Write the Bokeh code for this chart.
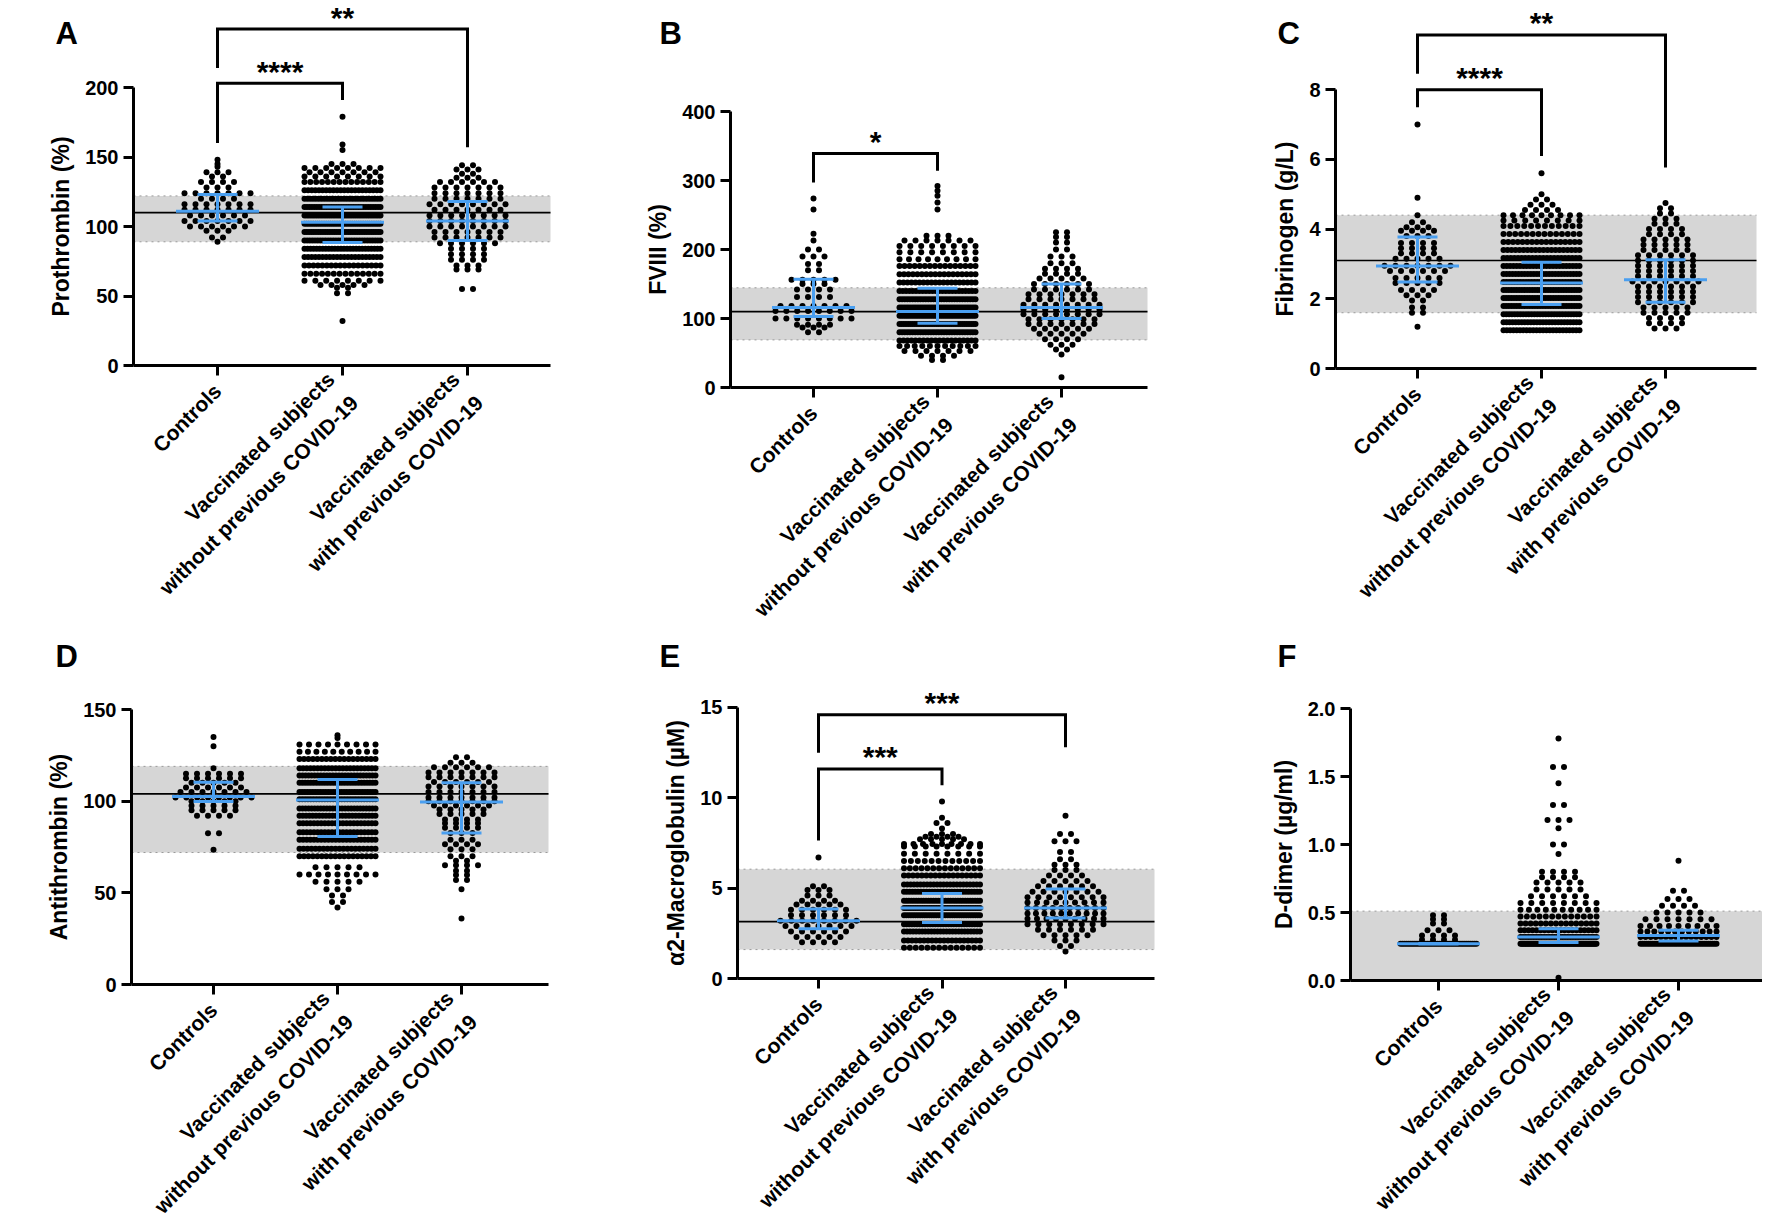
import math
from bokeh.plotting import figure
from bokeh.layouts import column, row
from bokeh.models import (Range1d, FixedTicker, BoxAnnotation, Label,
                          PrintfTickFormatter)
from bokeh.embed import file_html
from bokeh.resources import INLINE

FONT = "Liberation Sans"
BLUE = "#4a9ff0"
BAND = "#d6d6d6"

GROUP_LABELS = ["Controls",
                "Vaccinated subjects\nwithout previous COVID-19",
                "Vaccinated subjects\nwith previous COVID-19"]

# ---------------- A: Prothrombin (%) ----------------
A_ctrl_levels = [148, 145, 143, 139, 136, 132, 128, 124, 120, 116, 112, 108, 104, 100, 97, 92, 89]
A_ctrl_counts = [1, 1, 1, 3, 2, 4, 3, 7, 4, 7, 7, 6, 7, 6, 3, 2, 1]
A_novid_levels = [179, 159, 155, 145, 142, 139, 136, 132, 126, 120, 114, 108, 102, 96, 90, 84, 78, 72, 66, 61, 58, 56, 52, 32]
A_novid_counts = [1, 1, 1, 3, 8, 7, 8, 14, 22, 28, 32, 36, 36, 34, 30, 26, 22, 18, 14, 8, 5, 2, 2, 1]
A_covid_levels = [144, 141, 138, 135, 132, 128, 124, 120, 116, 112, 108, 104, 100, 96, 92, 88, 84, 80, 76, 72, 69, 55]
A_covid_counts = [2, 3, 2, 3, 6, 7, 7, 7, 8, 7, 8, 8, 8, 7, 7, 6, 4, 4, 4, 3, 3, 2]
A_median = [111, 103, 104]
A_q1 = [104, 88.5, 90]
A_q3 = [123, 114, 118]
A_band = [89, 122, 110]
A_ticks = [0, 50, 100, 150, 200]

# ---------------- B: FVIII (%) ----------------
B_ctrl_levels = [274, 258, 223, 213, 200, 190, 179, 170, 156, 150, 142, 131, 118, 111, 100, 91, 87, 80]
B_ctrl_counts = [1, 1, 1, 1, 2, 3, 2, 2, 5, 3, 4, 4, 7, 8, 8, 4, 3, 2]
B_novid_levels = [292, 285, 278, 268, 258, 220, 213, 205, 196, 186, 176, 164, 152, 140, 128, 116, 104, 92, 80, 68, 60, 53, 46, 40]
B_novid_counts = [1, 1, 1, 1, 1, 3, 7, 8, 8, 9, 16, 18, 20, 24, 30, 34, 38, 36, 30, 20, 11, 7, 4, 2]
B_covid_levels = [225, 218, 210, 200, 190, 180, 172, 165, 158, 150, 142, 135, 128, 120, 113, 106, 99, 92, 85, 78, 70, 62, 55, 48, 15]
B_covid_counts = [2, 2, 2, 2, 3, 3, 4, 4, 5, 6, 6, 7, 7, 8, 8, 8, 7, 7, 6, 5, 4, 3, 2, 1, 1]
B_median = [116, 110, 116]
B_q1 = [103, 93, 100]
B_q3 = [157, 144, 150]
B_band = [69, 144.5, 110]
B_ticks = [0, 100, 200, 300, 400]

# ---------------- C: Fibrinogen (g/L) ----------------
C_ctrl_levels = [7.0, 4.9, 4.4, 4.2, 4.05, 3.95, 3.8, 3.6, 3.45, 3.3, 3.15, 2.95, 2.8, 2.6, 2.45, 2.25, 2.1, 1.95, 1.75, 1.6, 1.2]
C_ctrl_counts = [1, 1, 1, 2, 3, 4, 3, 4, 4, 4, 5, 7, 6, 5, 5, 4, 3, 2, 2, 2, 1]
C_novid_levels = [5.6, 5.0, 4.85, 4.7, 4.55, 4.4, 4.25, 4.09, 3.86, 3.63, 3.40, 3.17, 2.94, 2.71, 2.48, 2.25, 2.02, 1.79, 1.56, 1.33, 1.10]
C_novid_counts = [1, 1, 2, 3, 4, 9, 8, 12, 14, 17, 20, 22, 24, 26, 28, 30, 30, 30, 28, 26, 24]
C_covid_levels = [4.75, 4.6, 4.45, 4.3, 4.15, 4.0, 3.85, 3.7, 3.55, 3.4, 3.25, 3.1, 2.95, 2.8, 2.65, 2.5, 2.35, 2.2, 2.05, 1.9, 1.75, 1.6, 1.45, 1.3, 1.15]
C_covid_counts = [1, 2, 2, 3, 3, 4, 4, 5, 5, 5, 6, 6, 6, 6, 6, 7, 6, 6, 6, 6, 5, 5, 4, 4, 3]
C_median = [2.94, 2.45, 2.55]
C_q1 = [2.48, 1.84, 1.9]
C_q3 = [3.77, 3.05, 3.12]
C_band = [1.6, 4.4, 3.1]
C_ticks = [0, 2, 4, 6, 8]

# ---------------- D: Antithrombin (%) ----------------
D_ctrl_levels = [135, 130, 118, 115, 112.5, 110, 107.5, 105, 102, 100, 97.5, 95, 92, 82.5, 73.5]
D_ctrl_counts = [1, 1, 1, 6, 6, 5, 6, 7, 8, 5, 5, 5, 4, 2, 1]
D_novid_levels = [136, 134.5, 131, 127, 123, 118, 114, 110, 105, 101, 96, 92, 88, 83, 79, 74, 70, 64, 60, 56, 52, 48.5, 45, 42]
D_novid_counts = [1, 1, 9, 10, 18, 22, 26, 28, 30, 28, 26, 24, 22, 22, 22, 20, 18, 5, 9, 5, 3, 2, 2, 1]
D_covid_levels = [124, 121, 118.5, 115.6, 113, 110.5, 108, 105, 102, 100, 97.7, 95.5, 93, 90, 88, 85.5, 82.7, 79, 76.5, 73.8, 70, 67.5, 65, 62, 59.8, 57, 52, 36]
D_covid_counts = [2, 3, 6, 7, 7, 6, 7, 7, 7, 7, 6, 5, 5, 4, 4, 4, 3, 3, 4, 3, 3, 2, 4, 2, 2, 2, 1, 1]
D_median = [102.6, 100.7, 99.5]
D_q1 = [99.8, 80.7, 82.7]
D_q3 = [110.4, 111.8, 110]
D_band = [72, 119, 104]
D_ticks = [0, 50, 100, 150]

# ---------------- E: alpha2-Macroglobulin (uM) ----------------
E_ctrl_levels = [6.7, 5.1, 4.9, 4.6, 4.3, 4.1, 3.8, 3.5, 3.2, 2.9, 2.6, 2.3, 2.0]
E_ctrl_counts = [1, 2, 3, 3, 4, 5, 6, 6, 8, 7, 6, 5, 4]
E_novid_levels = [9.8, 8.9, 8.6, 8.3, 8.0, 7.85, 7.7, 7.45, 7.3, 6.9, 6.5, 6.1, 5.7, 5.2, 4.8, 4.3, 3.9, 3.5, 3.0, 2.6, 2.1, 1.7]
E_novid_counts = [1, 1, 2, 1, 3, 4, 5, 9, 8, 8, 12, 14, 18, 24, 28, 32, 34, 34, 30, 26, 20, 14]
E_covid_levels = [9.0, 8.0, 7.6, 7.0, 6.6, 6.3, 6.0, 5.7, 5.4, 5.1, 4.8, 4.5, 4.2, 3.9, 3.6, 3.3, 3.0, 2.7, 2.4, 2.1, 1.8, 1.5]
E_covid_counts = [1, 2, 3, 2, 2, 3, 3, 4, 5, 6, 7, 8, 9, 10, 10, 9, 8, 6, 5, 3, 2, 1]
E_median = [3.2, 3.9, 3.9]
E_q1 = [2.75, 3.1, 3.35]
E_q3 = [3.85, 4.7, 4.95]
E_band = [1.6, 6.05, 3.15]
E_ticks = [0, 5, 10, 15]

# ---------------- F: D-dimer (ug/ml) ----------------
F_ctrl_levels = [0.48, 0.45, 0.42, 0.37, 0.33, 0.30, 0.27]
F_ctrl_counts = [2, 2, 2, 3, 4, 4, 40]
F_novid_levels = [1.78, 1.57, 1.45, 1.29, 1.18, 1.12, 1.00, 0.93, 0.80, 0.76, 0.72, 0.67, 0.62, 0.57, 0.52, 0.47, 0.42, 0.37, 0.32, 0.27, 0.02]
F_novid_counts = [1, 2, 1, 2, 3, 1, 2, 1, 4, 4, 5, 5, 6, 8, 10, 13, 16, 20, 30, 70, 1]
F_covid_levels = [0.88, 0.66, 0.60, 0.55, 0.50, 0.45, 0.40, 0.36, 0.32, 0.27]
F_covid_counts = [1, 2, 3, 4, 5, 7, 9, 12, 16, 40]
F_median = [0.27, 0.32, 0.33]
F_q1 = [0.27, 0.28, 0.29]
F_q3 = [0.27, 0.38, 0.37]
F_band = [0.0, 0.51, None]
F_ticks = [0.0, 0.5, 1.0, 1.5, 2.0]

# significance brackets: (group a, group b, top, left leg end, right leg end, text)
A_brackets = [(1, 2, 203, 160, 191, "****"), (1, 3, 242, 214, 157, "**")]
B_brackets = [(1, 2, 339, 297, 314, "*")]
C_brackets = [(1, 2, 8.0, 7.5, 6.1, "****"), (1, 3, 9.57, 8.46, 5.77, "**")]
D_brackets = []
E_brackets = [(1, 2, 11.6, 7.64, 10.7, "***"), (1, 3, 14.6, 12.5, 12.8, "***")]
F_brackets = []

# ---------------- layout (pixel geometry of the page) ----------------
COLS = [(0, 600), (600, 600), (1200, 562)]
ROWS = [(0, 628), (628, 600)]

SPECS = [
    dict(key="A", col=0, row=0, axis=133, fr=550, fb=365, sx=125, sy=1.39, g1=217, letter=(55, 33),
         ylabel="Prothrombin (%)", ticks=A_ticks, fmt=None, band=A_band, brackets=A_brackets,
         groups=[(A_ctrl_levels, A_ctrl_counts), (A_novid_levels, A_novid_counts), (A_covid_levels, A_covid_counts)],
         stats=(A_median, A_q1, A_q3)),
    dict(key="B", col=1, row=0, axis=730, fr=1147, fb=387, sx=124, sy=0.69, g1=813, letter=(659, 33),
         ylabel="FVIII (%)", ticks=B_ticks, fmt=None, band=B_band, brackets=B_brackets,
         groups=[(B_ctrl_levels, B_ctrl_counts), (B_novid_levels, B_novid_counts), (B_covid_levels, B_covid_counts)],
         stats=(B_median, B_q1, B_q3)),
    dict(key="C", col=2, row=0, axis=1335, fr=1756, fb=368, sx=124, sy=34.85, g1=1417, letter=(1277, 33),
         ylabel="Fibrinogen (g/L)", ticks=C_ticks, fmt=None, band=C_band, brackets=C_brackets,
         groups=[(C_ctrl_levels, C_ctrl_counts), (C_novid_levels, C_novid_counts), (C_covid_levels, C_covid_counts)],
         stats=(C_median, C_q1, C_q3)),
    dict(key="D", col=0, row=1, axis=131, fr=548, fb=984, sx=124, sy=1.833, g1=213, letter=(55, 656),
         ylabel="Antithrombin (%)", ticks=D_ticks, fmt=None, band=D_band, brackets=D_brackets,
         groups=[(D_ctrl_levels, D_ctrl_counts), (D_novid_levels, D_novid_counts), (D_covid_levels, D_covid_counts)],
         stats=(D_median, D_q1, D_q3)),
    dict(key="E", col=1, row=1, axis=737, fr=1154, fb=978, sx=123.5, sy=18.07, g1=818, letter=(659, 656),
         ylabel="\u03b12-Macroglobulin (\u00b5M)", ticks=E_ticks, fmt=None, band=E_band, brackets=E_brackets,
         groups=[(E_ctrl_levels, E_ctrl_counts), (E_novid_levels, E_novid_counts), (E_covid_levels, E_covid_counts)],
         stats=(E_median, E_q1, E_q3)),
    dict(key="F", col=2, row=1, axis=1350, fr=1762, fb=980, sx=120, sy=136, g1=1438, letter=(1277, 656),
         ylabel="D-dimer (\u00b5g/ml)", ticks=F_ticks, fmt="%.1f", band=F_band, brackets=F_brackets,
         groups=[(F_ctrl_levels, F_ctrl_counts), (F_novid_levels, F_novid_counts), (F_covid_levels, F_covid_counts)],
         stats=(F_median, F_q1, F_q3)),
]

DOT = 6.0        # dot diameter, px
GAP = 11.0       # preferred centre spacing in a row, px
HALF = 38.0      # max half-span of dot centres, px


def swarm(levels, counts, center, sx):
    xs, ys = [], []
    for lv, n in zip(levels, counts):
        step = GAP if n <= 1 else min(GAP, 2 * HALF / (n - 1))
        for i in range(n):
            off = (i - (n - 1) / 2.0) * step
            xs.append(center + off / sx)
            ys.append(lv)
    return xs, ys


def make_panel(s):
    colx, w = COLS[s["col"]]
    rowy, h = ROWS[s["row"]]
    fb = s["fb"]
    sx, sy = s["sx"], s["sy"]
    xa_loc = 1 - (s["g1"] - s["axis"]) / sx          # data x of the y axis
    x_end = xa_loc + (s["fr"] - s["axis"]) / sx       # data x where the x axis ends
    x0 = xa_loc - (s["axis"] - colx) / sx
    x1 = xa_loc + (colx + w - s["axis"]) / sx
    y0 = -(rowy + h - fb) / sy
    y1 = (fb - rowy) / sy

    p = figure(width=w, height=h, x_range=Range1d(x0, x1), y_range=Range1d(y0, y1),
               output_backend="svg", toolbar_location=None,
               min_border_left=0, min_border_right=0, min_border_top=0, min_border_bottom=0)
    p.outline_line_color = None
    p.xgrid.visible = False
    p.ygrid.visible = False
    p.background_fill_color = "white"
    p.border_fill_color = "white"

    lo, hi, ref = s["band"]
    p.add_layout(BoxAnnotation(left=xa_loc, right=x_end, bottom=lo, top=hi, fill_color=BAND,
                               fill_alpha=1.0, line_color=None, level="underlay"))
    p.segment(x0=[xa_loc, xa_loc], y0=[lo, hi], x1=[x_end, x_end], y1=[lo, hi],
              line_color="#9a9a9a", line_width=1, line_dash="dotted")
    if ref is not None:
        p.segment(x0=[xa_loc], y0=[ref], x1=[x_end], y1=[ref], line_color="black", line_width=1.6)

    for gi, (levels, counts) in enumerate(s["groups"]):
        xs, ys = swarm(levels, counts, gi + 1, sx)
        p.scatter(x=xs, y=ys, size=DOT, marker="circle", fill_color="black", line_color=None)

    med, q1, q3 = s["stats"]
    bx0, by0, bx1, by1 = [], [], [], []
    for i in range(3):
        c = i + 1
        for (yv, hw) in ((med[i], 41.5), (q1[i], 20), (q3[i], 20)):
            bx0.append(c - hw / sx); bx1.append(c + hw / sx); by0.append(yv); by1.append(yv)
        bx0.append(c); bx1.append(c); by0.append(q1[i]); by1.append(q3[i])
    p.segment(x0=bx0, y0=by0, x1=bx1, y1=by1, line_color=BLUE, line_width=3)

    for (ga, gb, top, la, lb, txt) in s["brackets"]:
        p.line([ga, ga, gb, gb], [la, top, top, lb], line_color="black", line_width=3,
               line_join="miter")
        p.add_layout(Label(x=(ga + gb) / 2.0, y=top, text=txt, text_align="center",
                           text_baseline="alphabetic", y_offset=12, text_font=FONT,
                           text_font_style="bold", text_font_size="30px", text_color="black"))

    lx = xa_loc + (s["letter"][0] - s["axis"]) / sx
    ly = (fb - s["letter"][1]) / sy
    p.add_layout(Label(x=lx, y=ly, text=s["key"], text_align="left", text_baseline="alphabetic",
                       text_font=FONT, text_font_style="bold", text_font_size="31px",
                       text_color="black"))

    xa = p.xaxis[0]
    xa.fixed_location = 0
    xa.ticker = FixedTicker(ticks=[1, 2, 3])
    xa.major_label_overrides = {1: GROUP_LABELS[0], 2: GROUP_LABELS[1], 3: GROUP_LABELS[2]}
    xa.major_label_orientation = math.pi / 4
    xa.bounds = (xa_loc, x_end)
    ya = p.yaxis[0]
    ya.fixed_location = xa_loc
    ya.ticker = FixedTicker(ticks=s["ticks"])
    ya.bounds = (0, s["ticks"][-1])
    ya.axis_label = s["ylabel"]
    if s["fmt"]:
        ya.formatter = PrintfTickFormatter(format=s["fmt"])
    for ax in (xa, ya):
        ax.axis_line_width = 3
        ax.axis_line_color = "black"
        ax.major_tick_line_width = 3
        ax.major_tick_line_color = "black"
        ax.major_tick_out = 10
        ax.major_tick_in = 0
        ax.minor_tick_line_color = None
        ax.major_label_text_font = FONT
        ax.major_label_text_font_style = "bold"
        ax.major_label_text_color = "black"
    xa.major_label_text_font_size = "21px"
    xa.major_label_text_line_height = 1.45
    xa.major_label_standoff = 12
    ya.major_label_text_font_size = "20px"
    ya.major_label_standoff = 5
    ya.axis_label_text_font = FONT
    ya.axis_label_text_font_style = "bold"
    ya.axis_label_text_font_size = "23px"
    ya.axis_label_text_color = "black"
    ya.axis_label_standoff = 8
    return p


panels = [make_panel(s) for s in SPECS]
layout = column(row(panels[0], panels[1], panels[2]), row(panels[3], panels[4], panels[5]))

open("out.html", "w").write(file_html(layout, INLINE))
